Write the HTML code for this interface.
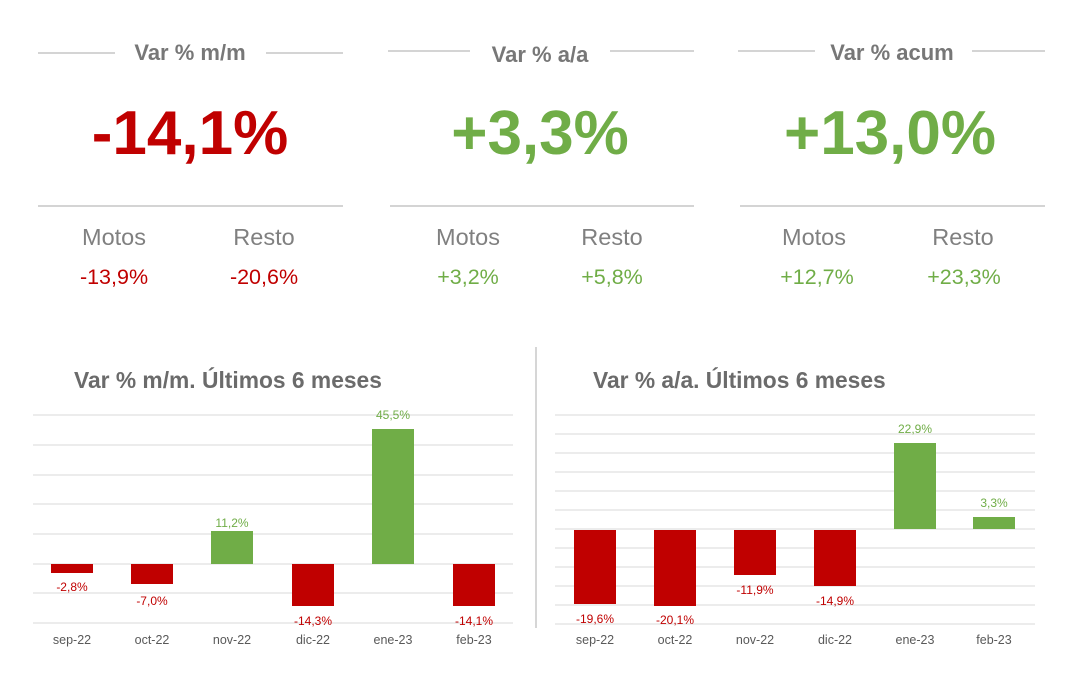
<!DOCTYPE html>
<html><head><meta charset="utf-8"><style>
body{margin:0;background:#fff;width:1080px;height:679px;overflow:hidden;font-family:"Liberation Sans",sans-serif}
</style></head><body>
<svg width="1080" height="679" xmlns="http://www.w3.org/2000/svg" font-family="Liberation Sans, sans-serif">
<g stroke="#bbb" stroke-width="1.2">
<line x1="38" y1="53" x2="115" y2="53"/><line x1="266" y1="53" x2="343" y2="53"/>
<line x1="388" y1="51" x2="470" y2="51"/><line x1="610" y1="51" x2="694" y2="51"/>
<line x1="738" y1="51" x2="815" y2="51"/><line x1="972" y1="51" x2="1045" y2="51"/>
<line x1="38" y1="206" x2="343" y2="206"/><line x1="390" y1="206" x2="694" y2="206"/><line x1="740" y1="206" x2="1045" y2="206"/>
<line x1="536" y1="347" x2="536" y2="628"/>
</g>
<g fill="#777" font-weight="bold" font-size="22" text-anchor="middle">
<text x="190" y="60">Var % m/m</text><text x="540" y="62">Var % a/a</text><text x="892" y="60">Var % acum</text>
</g>
<g font-weight="bold" font-size="62" text-anchor="middle">
<text x="190" y="154" fill="#c00000">-14,1%</text><text x="540" y="154" fill="#70ad47">+3,3%</text><text x="890" y="154" fill="#70ad47">+13,0%</text>
</g>
<g fill="#808080" font-size="23.5" text-anchor="middle">
<text x="114" y="245">Motos</text><text x="264" y="245">Resto</text>
<text x="468" y="245">Motos</text><text x="612" y="245">Resto</text>
<text x="814" y="245">Motos</text><text x="963" y="245">Resto</text>
</g>
<g font-size="21.5" text-anchor="middle">
<text x="114" y="284" fill="#c00000">-13,9%</text><text x="264" y="284" fill="#c00000">-20,6%</text>
<text x="468" y="284" fill="#70ad47">+3,2%</text><text x="612" y="284" fill="#70ad47">+5,8%</text>
<text x="817" y="284" fill="#70ad47">+12,7%</text><text x="964" y="284" fill="#70ad47">+23,3%</text>
</g>
<g fill="#6b6b6b" font-weight="bold" font-size="22.8">
<text x="74" y="388">Var % m/m. Últimos 6 meses</text><text x="593" y="388">Var % a/a. Últimos 6 meses</text>
</g>
<g stroke="#d9d9d9" stroke-width="1">
<line x1="33" x2="513" y1="415" y2="415"/><line x1="33" x2="513" y1="445" y2="445"/><line x1="33" x2="513" y1="475" y2="475"/><line x1="33" x2="513" y1="504" y2="504"/><line x1="33" x2="513" y1="534" y2="534"/><line x1="33" x2="513" y1="564" y2="564"/><line x1="33" x2="513" y1="593" y2="593"/><line x1="33" x2="513" y1="623" y2="623"/>
<line x1="555" x2="1035" y1="415" y2="415"/><line x1="555" x2="1035" y1="434" y2="434"/><line x1="555" x2="1035" y1="453" y2="453"/><line x1="555" x2="1035" y1="472" y2="472"/><line x1="555" x2="1035" y1="491" y2="491"/><line x1="555" x2="1035" y1="510" y2="510"/><line x1="555" x2="1035" y1="529" y2="529"/><line x1="555" x2="1035" y1="548" y2="548"/><line x1="555" x2="1035" y1="567" y2="567"/><line x1="555" x2="1035" y1="586" y2="586"/><line x1="555" x2="1035" y1="605" y2="605"/><line x1="555" x2="1035" y1="624" y2="624"/>
</g>
<g fill="#c00000">
<rect x="51" y="564" width="42" height="9"/><rect x="131" y="564" width="42" height="20"/><rect x="292" y="564" width="42" height="42"/><rect x="453" y="564" width="42" height="42"/>
<rect x="574" y="530" width="42" height="74"/><rect x="654" y="530" width="42" height="76"/><rect x="734" y="530" width="42" height="45"/><rect x="814" y="530" width="42" height="56"/>
</g>
<g fill="#70ad47">
<rect x="211" y="531" width="42" height="33"/><rect x="372" y="429" width="42" height="135"/>
<rect x="894" y="443" width="42" height="86"/><rect x="973" y="517" width="42" height="12"/>
</g>
<g font-size="12" text-anchor="middle" fill="#c00000">
<text x="72" y="591">-2,8%</text><text x="152" y="605">-7,0%</text><text x="313" y="625">-14,3%</text><text x="474" y="625">-14,1%</text>
<text x="595" y="623">-19,6%</text><text x="675" y="624">-20,1%</text><text x="755" y="594">-11,9%</text><text x="835" y="605">-14,9%</text>
</g>
<g font-size="12" text-anchor="middle" fill="#70ad47">
<text x="232" y="527">11,2%</text><text x="393" y="419">45,5%</text><text x="915" y="433">22,9%</text><text x="994" y="507">3,3%</text>
</g>
<g font-size="12.5" text-anchor="middle" fill="#595959">
<text x="72" y="644">sep-22</text><text x="152" y="644">oct-22</text><text x="232" y="644">nov-22</text><text x="313" y="644">dic-22</text><text x="393" y="644">ene-23</text><text x="474" y="644">feb-23</text>
<text x="595" y="644">sep-22</text><text x="675" y="644">oct-22</text><text x="755" y="644">nov-22</text><text x="835" y="644">dic-22</text><text x="915" y="644">ene-23</text><text x="994" y="644">feb-23</text>
</g>
</svg>
</body></html>
